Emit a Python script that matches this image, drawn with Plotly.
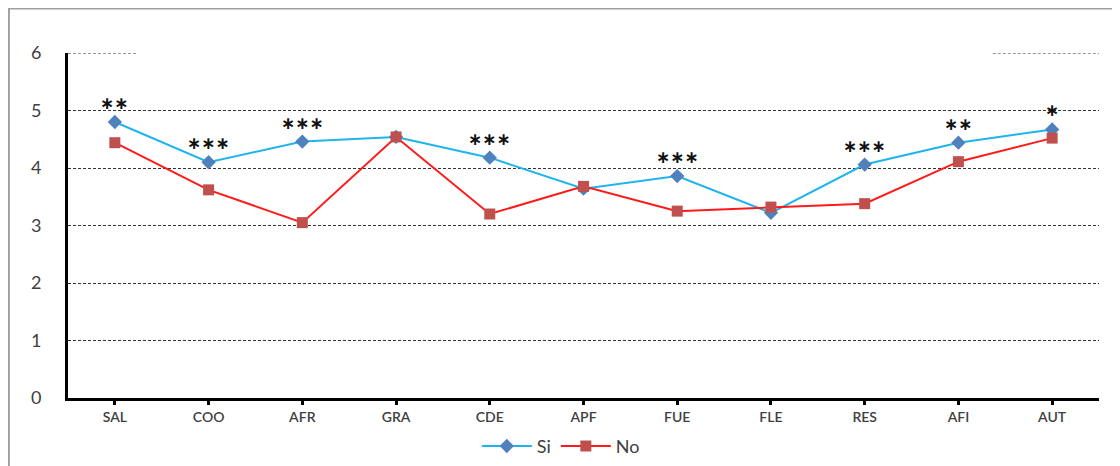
import plotly.graph_objects as go

categories = ["SAL", "COO", "AFR", "GRA", "CDE", "APF", "FUE", "FLE", "RES", "AFI", "AUT"]
si_values = [4.80, 4.10, 4.46, 4.54, 4.18, 3.64, 3.86, 3.22, 4.06, 4.44, 4.67]
no_values = [4.44, 3.62, 3.05, 4.54, 3.20, 3.68, 3.25, 3.32, 3.38, 4.11, 4.52]
significance = ["**", "***", "***", "", "***", "", "***", "", "***", "**", "*"]
y_ticks = [0, 1, 2, 3, 4, 5, 6]

fig = go.Figure()
fig.add_trace(go.Scatter(
    x=categories, y=si_values, name="Si", mode="lines+markers",
    line=dict(color="#1FB4EE", width=2),
    marker=dict(symbol="diamond", size=11, color="#4F81BD"),
))
fig.add_trace(go.Scatter(
    x=categories, y=no_values, name="No", mode="lines+markers",
    line=dict(color="#FF1A1A", width=2),
    marker=dict(symbol="square", size=11, color="#C0504D"),
))

for cat, val, sig in zip(categories, si_values, significance):
    if sig:
        fig.add_annotation(
            x=cat, y=val, text="\u2217" * len(sig), showarrow=False,
            yshift=19, font=dict(size=17, color="#111111", family="DejaVu Sans", weight="bold"),
        )

# outer frame
fig.add_shape(type="rect", xref="paper", yref="paper",
              x0=-0.0573, x1=1.08, y0=-0.25, y1=1.129,
              line=dict(color="#A0A0A0", width=2), layer="below")
# broken top gridline
top = y_ticks[-1]
for x0, x1 in [(0.0, 0.066), (0.897, 1.0)]:
    fig.add_shape(type="line", xref="paper", yref="y", x0=x0, x1=x1, y0=top, y1=top,
                  line=dict(color="#333333", width=1, dash="3px,2px"), layer="below")

fig.update_layout(
    width=1120, height=466,
    margin=dict(l=60, r=29, t=45, b=76, autoexpand=False),
    paper_bgcolor="white", plot_bgcolor="white",
    font=dict(family="Lato", color="#404040"),
    showlegend=True,
    legend=dict(orientation="h", x=0.478, xanchor="center", y=-0.14, yanchor="middle",
                font=dict(size=18, color="#404040"), itemwidth=50),
)
fig.update_xaxes(
    type="category", range=[-0.5, 10.5], automargin=False,
    showline=True, linecolor="black", linewidth=3,
    ticks="outside", ticklen=4, tickwidth=3, tickcolor="black",
    tickfont=dict(size=14, color="#404040", weight=600),
    showgrid=False,
)
fig.update_yaxes(
    range=[0, 6], tickvals=y_ticks, automargin=False,
    showline=True, linecolor="black", linewidth=3,
    showgrid=True, gridcolor="#333333", gridwidth=1, griddash="3px,2px",
    zeroline=False,
    ticks="", ticklabelstandoff=20,
    tickfont=dict(size=18, color="#404040"),
)

fig.write_html("out.html")
